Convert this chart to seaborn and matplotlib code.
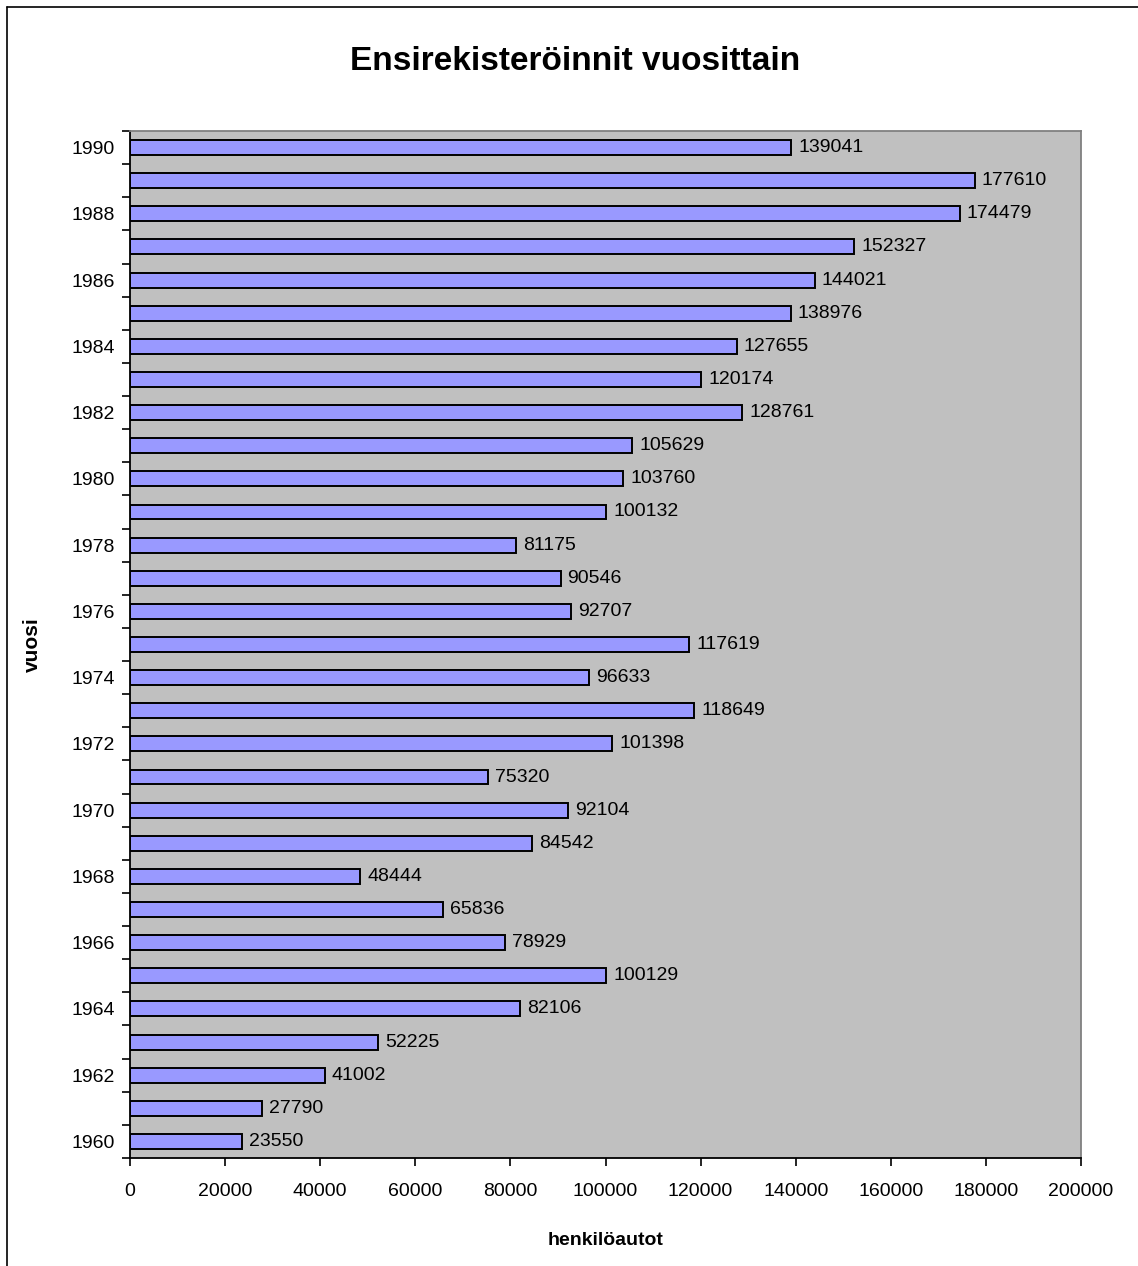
import matplotlib
matplotlib.use("Agg")
import matplotlib.pyplot as plt
import seaborn as sns
import pandas as pd
from matplotlib.lines import Line2D
from matplotlib.ticker import FixedLocator

years = list(range(1990, 1959, -1))
values = [139041, 177610, 174479, 152327, 144021, 138976, 127655, 120174, 128761,
          105629, 103760, 100132, 81175, 90546, 92707, 117619, 96633, 118649,
          101398, 75320, 92104, 84542, 48444, 65836, 78929, 100129, 82106,
          52225, 41002, 27790, 23550]
title = "Ensirekisteröinnit vuosittain"
xlabel = "henkilöautot"
ylabel = "vuosi"
xticks = [0, 20000, 40000, 60000, 80000, 100000, 120000, 140000, 160000, 180000, 200000]

sns.set_style("white")
plt.rcParams["font.family"] = ["Liberation Sans", "DejaVu Sans"]
plt.rcParams["text.color"] = "black"
plt.rcParams["axes.labelcolor"] = "black"
plt.rcParams["xtick.color"] = "black"
plt.rcParams["ytick.color"] = "black"

df = pd.DataFrame({"year": [str(y) for y in years], "value": values})

fig = plt.figure(figsize=(11.38, 12.66), dpi=100)
ax = fig.add_axes([130 / 1138, 1 - 1158 / 1266, (1081 - 130) / 1138, (1158 - 131) / 1266])
ax.set_facecolor("#C0C0C0")

sns.barplot(data=df, x="value", y="year", order=df["year"].tolist(), orient="h",
            color="#9999FF", saturation=1, width=0.45, edgecolor="black",
            linewidth=1.4, ax=ax)

n = len(years)
ax.set_ylim(n - 0.5, -0.5)
ax.set_xlim(0, 200000)
ax.set_xticks(xticks)
ax.set_xticklabels([str(t) for t in xticks], fontsize=14)
ax.set_yticks(range(n))
ax.set_yticklabels([str(y) if (y % 2 == 0) else "" for y in years], fontsize=14)
ax.tick_params(axis="y", which="major", left=True, length=0, pad=11)
ax.yaxis.set_minor_locator(FixedLocator([i + 0.5 for i in range(-1, n)]))
ax.tick_params(axis="y", which="minor", left=True, length=6, width=1.2,
               color="black", direction="out")
ax.tick_params(axis="x", which="major", bottom=True, length=6, width=1.2,
               color="black", direction="out", pad=12)

for i, v in enumerate(values):
    ax.annotate(str(v), xy=(v, i), xytext=(5, 0), textcoords="offset points",
                va="center", ha="left", fontsize=14, color="black")

for s in ["left", "bottom"]:
    ax.spines[s].set_color("black")
    ax.spines[s].set_linewidth(1.3)
for s in ["right", "top"]:
    ax.spines[s].set_color("#808080")
    ax.spines[s].set_linewidth(1.3)

ax.set_xlabel(xlabel, fontsize=14, fontweight="bold")
ax.set_ylabel(ylabel, fontsize=15, fontweight="bold")
ax.yaxis.set_label_coords(-88 / 951, 0.5)
ax.xaxis.set_label_coords(0.5, -(1232 - 1158) / 1027)

fig.text(575 / 1138, 1 - 62 / 1266, title, ha="center", va="center",
         fontsize=24, fontweight="bold", color="black")

fig.add_artist(Line2D([7 / 1138, 7 / 1138], [0, 1 - 7 / 1266], transform=fig.transFigure,
                      color="black", linewidth=1.2))
fig.add_artist(Line2D([7 / 1138, 1], [1 - 7 / 1266, 1 - 7 / 1266], transform=fig.transFigure,
                      color="black", linewidth=1.2))

fig.savefig("out.png", dpi=100)
